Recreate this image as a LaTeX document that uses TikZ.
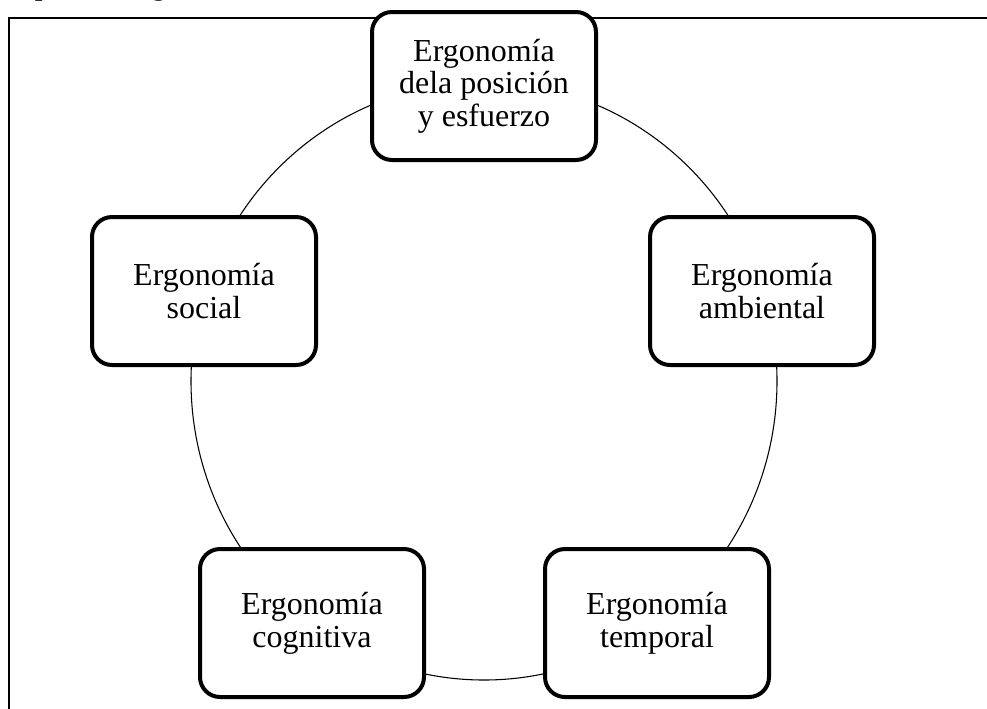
\documentclass[tikz,border=0pt]{standalone}
\usepackage{fontspec}
\setmainfont{Liberation Serif}
\tikzset{
  tipo/.style={draw, fill=white, line width=3pt, rounded corners=15pt,
    minimum width=168pt, minimum height=111pt, align=center,
    font=\fontsize{24}{24.5}\selectfont},
}
\begin{document}
\begin{tikzpicture}[x=0.75pt, y=0.75pt]
        \useasboundingbox (0,0) rectangle (987,-708);
        % Title and frame
        \node[anchor=base west, inner sep=0pt, font=\fontsize{24}{24.5}\selectfont\itshape] (titulo) at (12,6) {Tipos de ergonomía};
        \draw[line width=1pt] (9,-18) rectangle (1000,-730);

        % Ring behind the boxes
        \coordinate (centro) at (484,-381);
        \draw[line width=0.8pt] (centro) ellipse [x radius=293, y radius=299];

        % Types
        \node[tipo] (posicion) at (484,-86) {Ergonomía\\dela posición\\y esfuerzo};
        \node[tipo] (social) at (204,-291) {Ergonomía\\social};
        \node[tipo] (ambiental) at (762,-291) {Ergonomía\\ambiental};
        \node[tipo] (cognitiva) at (312,-623) {Ergonomía\\cognitiva};
        \node[tipo] (temporal) at (657,-623) {Ergonomía\\temporal};
    \end{tikzpicture}
\end{document}
